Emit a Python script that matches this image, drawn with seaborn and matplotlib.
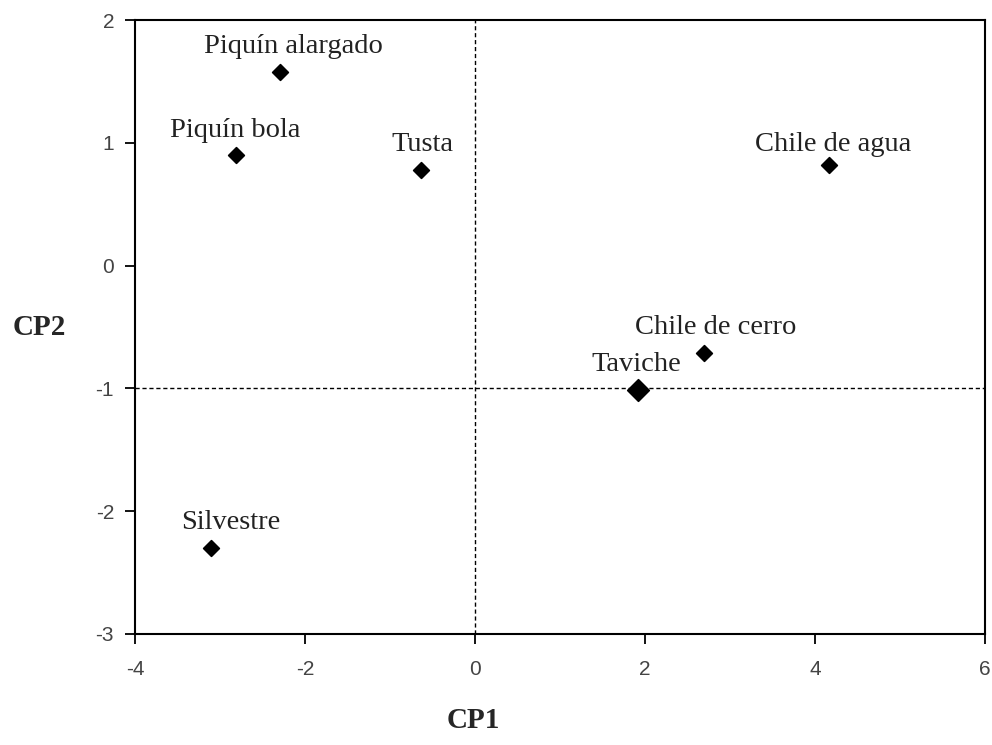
import matplotlib
matplotlib.use("Agg")
import matplotlib.pyplot as plt
import seaborn as sns
import pandas as pd

# Principal component scores per chile type
names = ["Piquín alargado", "Piquín bola", "Tusta", "Chile de agua",
         "Chile de cerro", "Taviche", "Silvestre"]
cp1 = [-2.29, -2.81, -0.63, 4.17, 2.69, 1.92, -3.11]
cp2 = [1.58, 0.90, 0.78, 0.82, -0.71, -1.01, -2.30]
marker_size = [8, 8, 8, 8, 8, 11, 8]
# label offsets (pixels) relative to each point
label_dx = [13, -1, 1, 4, 12, -2, 20]
label_dy = [25, 25, 25, 20, 25, 25, 26]

xticks = [-4, -2, 0, 2, 4, 6]
yticks = [-3, -2, -1, 0, 1, 2]

df = pd.DataFrame({"name": names, "CP1": cp1, "CP2": cp2, "ms": marker_size})

sns.set_style("white")
fig = plt.figure(figsize=(9.92, 7.45), dpi=100)
ax = fig.add_axes([0.136, 0.149, 0.857, 0.824])

ax.axvline(0, color="black", lw=1, ls=(0, (3, 2)), zorder=1)
ax.axhline(-1, color="black", lw=1, ls=(0, (3, 2)), zorder=1)

for _, r in df.iterrows():
    sns.scatterplot(x=[r["CP1"]], y=[r["CP2"]], ax=ax, marker="D",
                    s=r["ms"] ** 2, color="black", edgecolor="black",
                    linewidth=1.2, zorder=3, legend=False)

for n, x, y, dx, dy in zip(names, cp1, cp2, label_dx, label_dy):
    ax.annotate(n, (x, y), xytext=(dx, dy), textcoords="offset pixels",
                ha="center", va="center", fontsize=20.5,
                family="Liberation Serif", color="#222222")

ax.set_xlim(-4, 6)
ax.set_ylim(-3, 2)
ax.set_xticks(xticks)
ax.set_yticks(yticks)
ax.set_xticklabels([str(t) for t in xticks], family="Liberation Sans",
                   fontsize=15, color="#444444")
ax.set_yticklabels([str(t) for t in yticks], family="Liberation Sans",
                   fontsize=15, color="#444444")
ax.tick_params(axis="both", direction="out", length=7, width=1.3,
               color="black", bottom=True, left=True)
ax.tick_params(axis="x", pad=12)
ax.tick_params(axis="y", pad=8)

for sp in ax.spines.values():
    sp.set_color("black")
    sp.set_linewidth(1.5)

ax.set_xlabel("")
ax.set_ylabel("")
fig.text(0.477, 0.033, "CP1", family="Liberation Serif", weight="bold",
         fontsize=21, ha="center", va="center")
fig.text(0.04, 0.561, "CP2", family="Liberation Serif", weight="bold",
         fontsize=21, ha="center", va="center")

fig.savefig("out.png", dpi=100)
